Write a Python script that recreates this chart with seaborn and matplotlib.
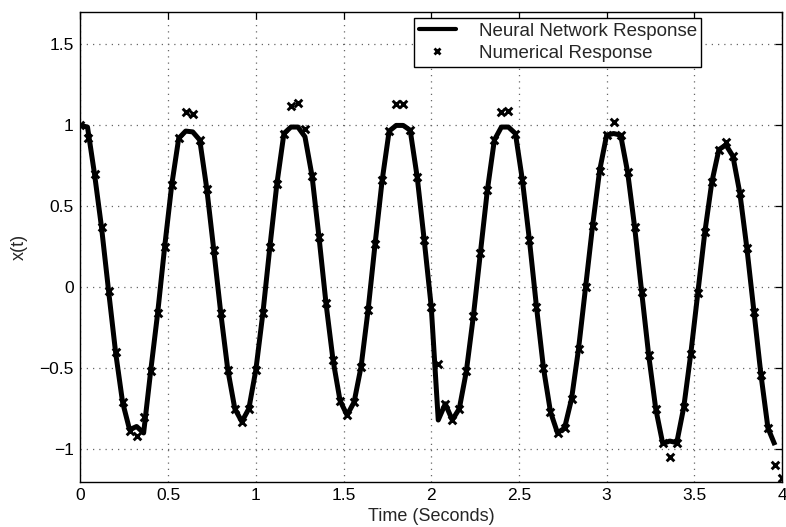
import numpy as np
import pandas as pd
import matplotlib
matplotlib.use("Agg")
import matplotlib.pyplot as plt
import seaborn as sns
from matplotlib.lines import Line2D
from matplotlib.ticker import FuncFormatter

# sample grid of the simulation (seconds)
time = np.round(np.linspace(0, 4, 101), 2)

# numerical (reference) solution, one value per sample
numerical = [
    1.00, 0.92, 0.70, 0.37, -0.02, -0.40, -0.71, -0.89, -0.92, -0.80,
    -0.52, -0.16, 0.25, 0.63, 0.92, 1.08, 1.07, 0.91, 0.61, 0.23,
    -0.16, -0.51, -0.75, -0.83, -0.75, -0.51, -0.16, 0.25, 0.64, 0.95,
    1.12, 1.14, 0.98, 0.69, 0.31, -0.10, -0.45, -0.70, -0.79, -0.71,
    -0.49, -0.14, 0.27, 0.66, 0.965, 1.13, 1.13, 0.97, 0.68, 0.29,
    -0.12, -0.475, -0.72, -0.82, -0.75, -0.52, -0.18, 0.21, 0.60, 0.91,
    1.08, 1.09, 0.95, 0.66, 0.29, -0.12, -0.50, -0.77, -0.90, -0.87,
    -0.69, -0.38, 0.00, 0.38, 0.72, 0.94, 1.02, 0.94, 0.71, 0.37,
    -0.03, -0.42, -0.75, -0.965, -1.05, -0.96, -0.74, -0.41, -0.035, 0.34,
    0.65, 0.85, 0.90, 0.81, 0.58, 0.24, -0.15, -0.54, -0.87, -1.10,
    -1.18,
]

# neural network output (stops one sample before the end)
neural_net = [
    1.00, 0.99, 0.70, 0.37, -0.02, -0.40, -0.71, -0.88, -0.86, -0.90,
    -0.52, -0.16, 0.25, 0.63, 0.92, 0.965, 0.96, 0.91, 0.61, 0.23,
    -0.16, -0.51, -0.75, -0.83, -0.75, -0.51, -0.16, 0.25, 0.64, 0.95,
    0.99, 0.99, 0.93, 0.69, 0.31, -0.10, -0.45, -0.70, -0.79, -0.71,
    -0.49, -0.14, 0.27, 0.66, 0.965, 1.00, 1.00, 0.97, 0.68, 0.29,
    -0.12, -0.82, -0.72, -0.82, -0.75, -0.52, -0.18, 0.21, 0.60, 0.91,
    0.99, 0.99, 0.95, 0.66, 0.29, -0.12, -0.50, -0.77, -0.90, -0.87,
    -0.69, -0.38, 0.00, 0.38, 0.72, 0.94, 0.95, 0.94, 0.71, 0.37,
    -0.03, -0.42, -0.75, -0.965, -0.95, -0.96, -0.74, -0.41, -0.035, 0.34,
    0.65, 0.85, 0.88, 0.81, 0.58, 0.24, -0.15, -0.54, -0.87, -0.975,
]

x_ticks = [0, 0.5, 1, 1.5, 2, 2.5, 3, 3.5, 4]
y_ticks = [-1, -0.5, 0, 0.5, 1, 1.5]

df_num = pd.DataFrame({"t": time, "x": numerical})
df_nn = pd.DataFrame({"t": time[:len(neural_net)], "x": neural_net})

sns.set_theme(style="white")
plt.rcParams["font.family"] = ["Liberation Sans", "DejaVu Sans"]

fig = plt.figure(figsize=(7.86, 5.27), dpi=100)
ax = fig.add_axes([0.1024, 0.0863, 0.8925, 0.8907])

sns.lineplot(data=df_nn, x="t", y="x", ax=ax, color="black", linewidth=3.6,
             solid_joinstyle="round", solid_capstyle="butt", zorder=2)
sns.scatterplot(data=df_num, x="t", y="x", ax=ax, marker="x", color="black",
                s=30, linewidth=2.1, zorder=3)

ax.set_xlim(0, 4)
ax.set_ylim(-1.2, 1.7)
ax.set_xticks(x_ticks)
ax.set_yticks(y_ticks)
fmt = FuncFormatter(lambda v, pos: ("%g" % v).replace("-", "\u2212"))
ax.xaxis.set_major_formatter(fmt)
ax.yaxis.set_major_formatter(fmt)

ax.grid(True, linestyle=(0, (1, 4)), color="#666666", linewidth=0.9)
ax.tick_params(direction="in", length=5, width=0.9, top=True, right=True,
               labelsize=12.5, colors="black")
ax.tick_params(axis="x", pad=5)
ax.tick_params(axis="y", pad=5)
for sp in ax.spines.values():
    sp.set_color("black")
    sp.set_linewidth(1.0)

ax.set_xlabel("Time (Seconds)", fontsize=13, labelpad=3)
ax.set_ylabel("x(t)", fontsize=13, labelpad=8)

handles = [
    Line2D([0], [0], color="black", lw=3.0, label="Neural Network Response"),
    Line2D([0], [0], color="black", lw=0, marker="x", markersize=5,
           markeredgewidth=2, label="Numerical Response"),
]
leg = ax.legend(handles=handles, loc="upper right", bbox_to_anchor=(0.885, 0.987),
                borderaxespad=0, fontsize=13.5, frameon=True, fancybox=False,
                edgecolor="black", framealpha=1, handlelength=2.0,
                labelspacing=0.25, borderpad=0.25, handletextpad=1.2)
leg.get_frame().set_linewidth(1.0)

fig.savefig("out.png", dpi=100)
